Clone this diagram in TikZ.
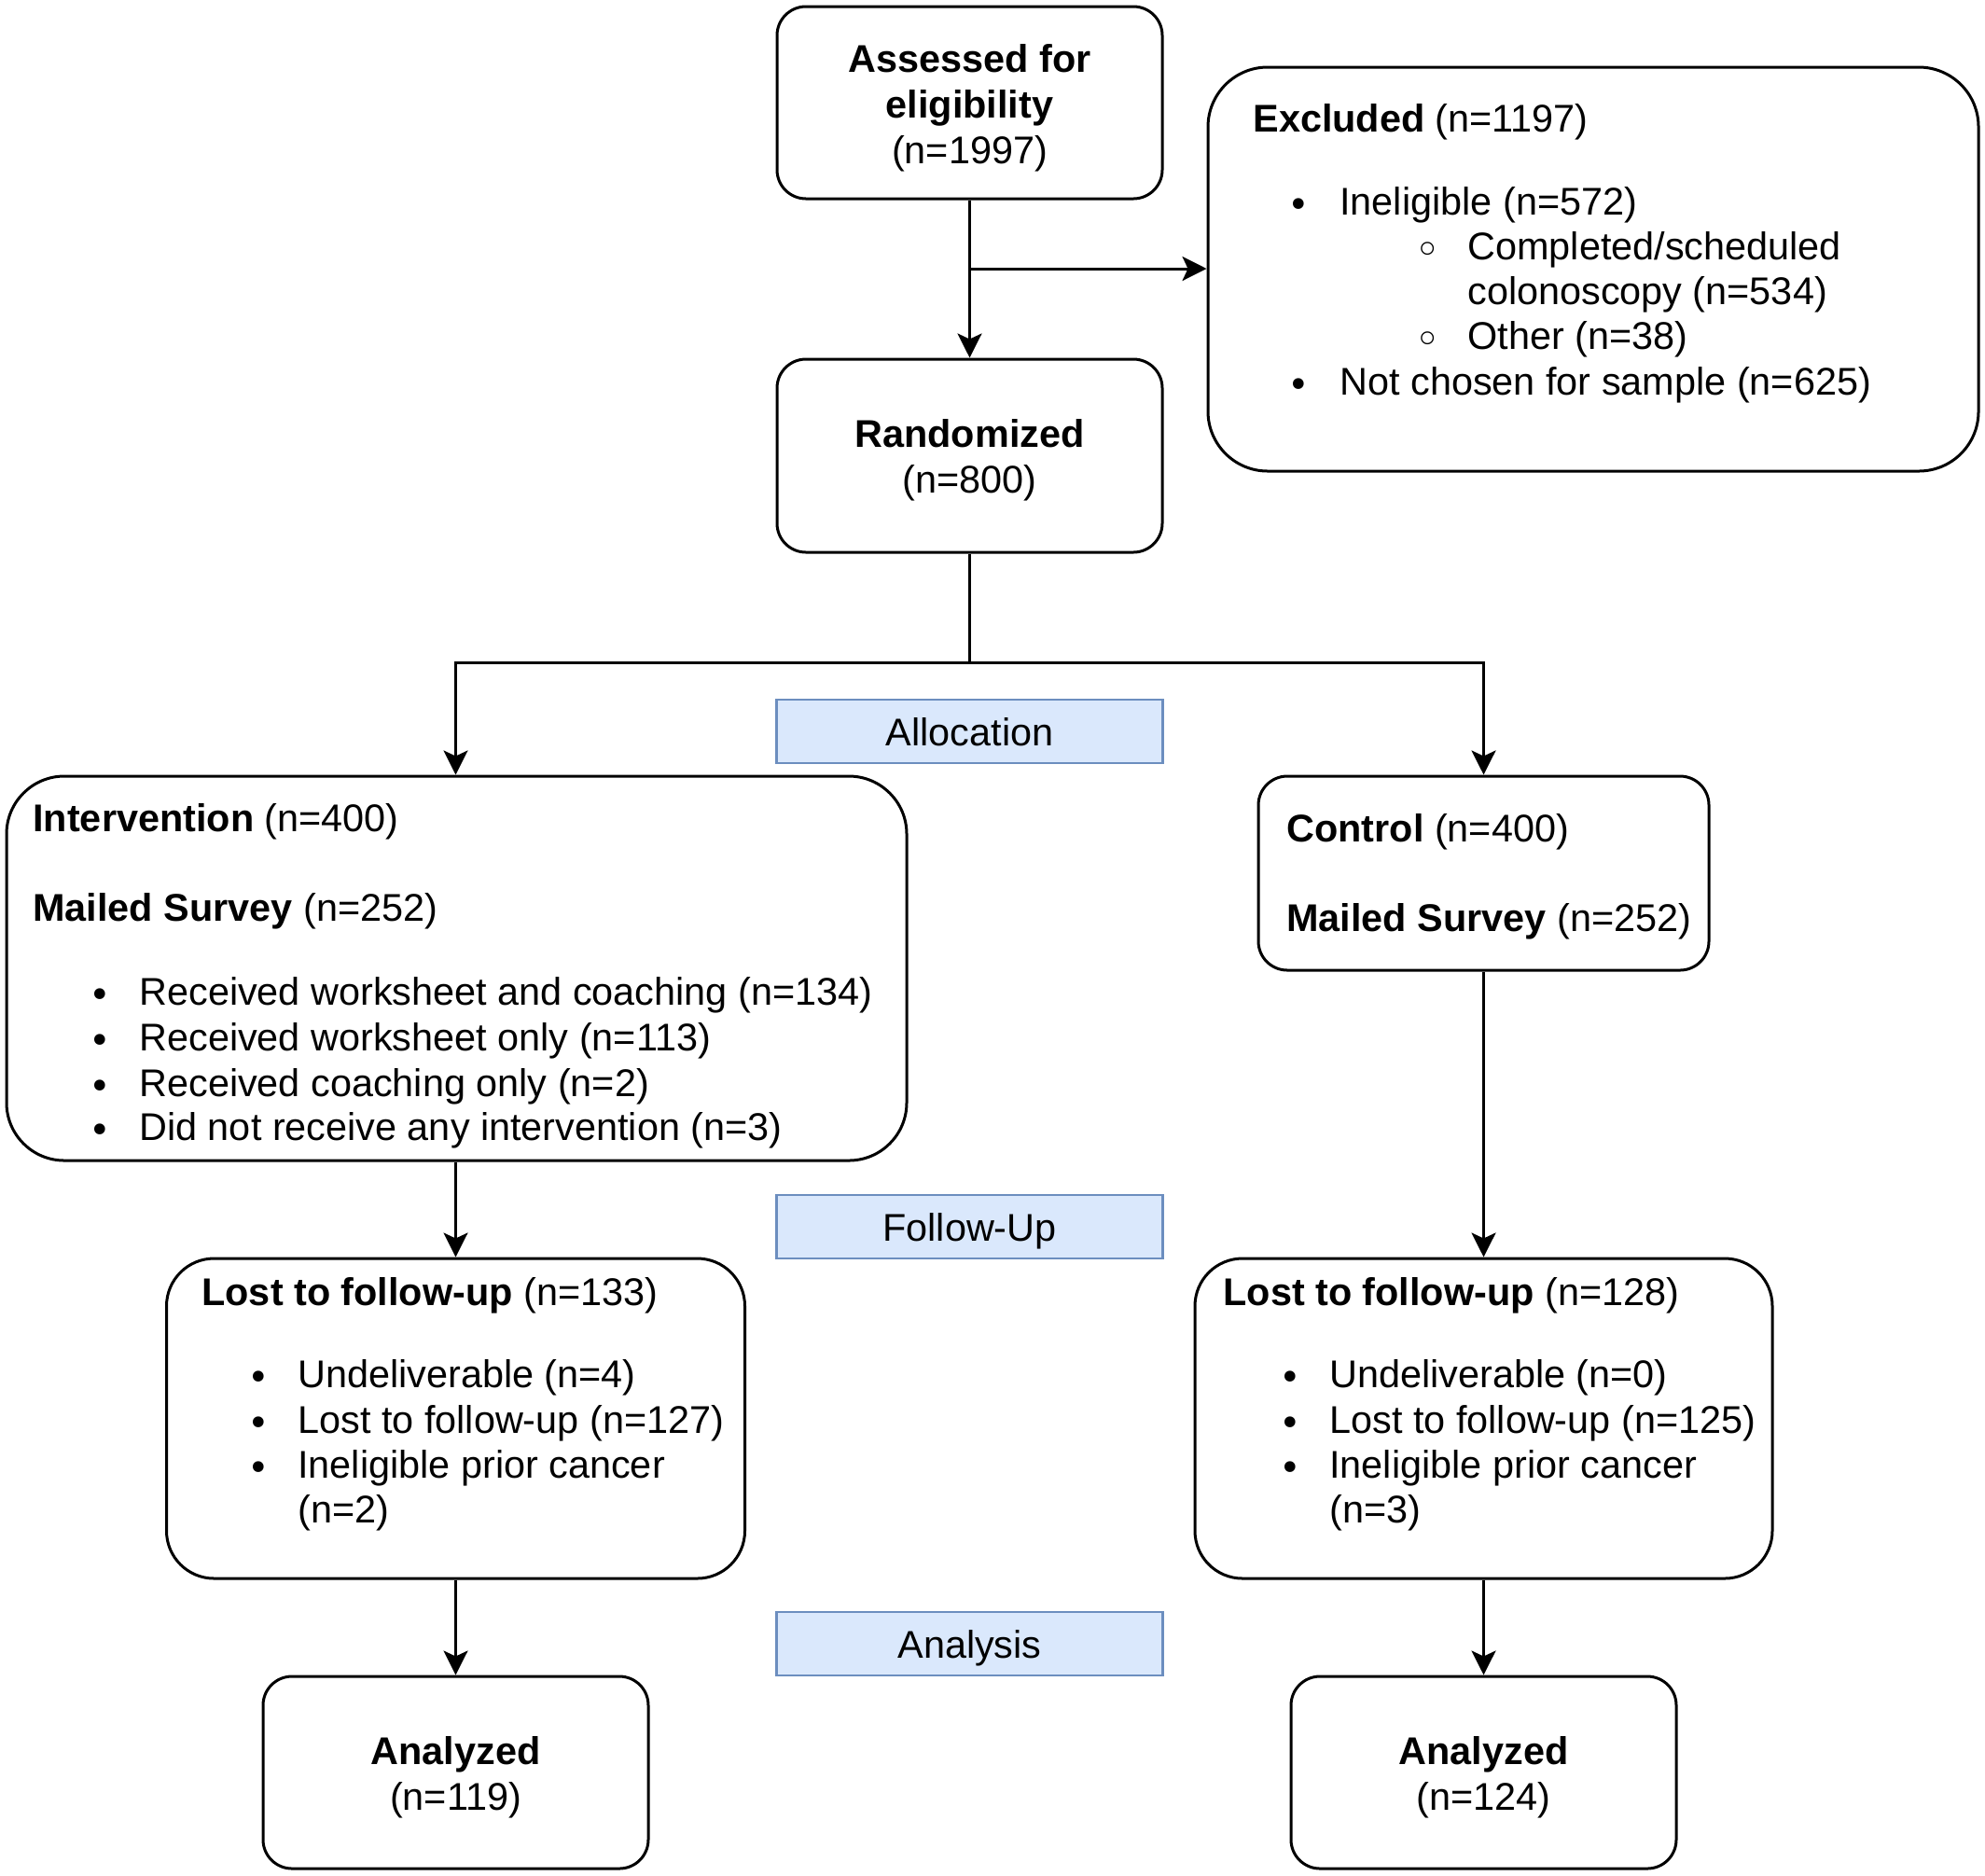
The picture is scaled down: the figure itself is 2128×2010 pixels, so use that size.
\documentclass[tikz,border=0pt]{standalone}
\usepackage{fontspec}
\setmainfont{Liberation Sans}
\newfontfamily\symfont{DejaVu Sans}
\usetikzlibrary{arrows.meta}
\tikzset{
  boxnode/.style={draw=black, line width=1.5pt, fill=white, inner sep=0pt},
  ctext/.style={align=center, inner sep=0pt, font=\fontsize{20.7}{24.5}\selectfont},
  labelbox/.style={draw={rgb,255:red,108;green,142;blue,191}, line width=1.2pt,
    fill={rgb,255:red,218;green,232;blue,252}, inner sep=0pt,
    minimum width=207pt, minimum height=34pt, text height=1.5em, text depth=0em,
    font=\fontsize{20.7}{24}\selectfont},
  txt/.style={anchor=west, inner sep=0pt, text height=1.54em, text depth=0.2em,
    font=\fontsize{20.7}{24}\selectfont},
  bul/.style={anchor=center, inner sep=0pt, yshift=-2pt, font=\symfont\fontsize{20}{20}\selectfont},
  subbul/.style={anchor=center, inner sep=0pt, yshift=-2pt, font=\symfont\fontsize{24}{24}\selectfont},
  arr/.style={line width=1.5pt, -{Stealth[length=13pt,width=13pt,inset=3pt]}},
  ln/.style={line width=1.5pt}
}
\begin{document}
\begin{tikzpicture}[x=0.5pt,y=-0.5pt]
\useasboundingbox (0,0) rectangle (2128,2010);

% boxes
\node[boxnode, rounded corners=15.5pt, minimum width=206.5pt, minimum height=103pt] (assess) at (1039.5,110) {};
\node[boxnode, rounded corners=32pt, minimum width=413pt, minimum height=216.5pt] (excl) at (1708,288.5) {};
\node[boxnode, rounded corners=15.5pt, minimum width=206.5pt, minimum height=103.5pt] (rand) at (1039.5,488.5) {};
\node[boxnode, rounded corners=31pt, minimum width=482.5pt, minimum height=206pt] (int) at (489.5,1038) {};
\node[boxnode, rounded corners=15.5pt, minimum width=241.5pt, minimum height=104pt] (ctrl) at (1590.5,936) {};
\node[boxnode, rounded corners=25.5pt, minimum width=310pt, minimum height=171.5pt] (lostL) at (488.5,1520.5) {};
\node[boxnode, rounded corners=25.5pt, minimum width=309.5pt, minimum height=171.5pt] (lostR) at (1590.5,1520.5) {};
\node[boxnode, rounded corners=15.5pt, minimum width=206.5pt, minimum height=103pt] (anaL) at (488.5,1900) {};
\node[boxnode, rounded corners=15.5pt, minimum width=206.5pt, minimum height=103pt] (anaR) at (1590.5,1900) {};

% centred texts
\node[ctext] (assessT) at (1039.5,116) {\textbf{Assessed for}\\\textbf{eligibility}\\(n=1997)};
\node[ctext] (randT) at (1039.5,493) {\textbf{Randomized}\\(n=800)};
\node[ctext] (anaLT) at (488.5,1905) {\textbf{Analyzed}\\(n=119)};
\node[ctext] (anaRT) at (1590.5,1905) {\textbf{Analyzed}\\(n=124)};

% stage labels
\node[labelbox] (alloc) at (1039.5,784) {Allocation};
\node[labelbox] (follow) at (1039.5,1315) {Follow-Up};
\node[labelbox] (analysis) at (1039.5,1762) {Analysis};

% Excluded text
\node[txt] (ex0) at (1343,128) {\textbf{Excluded} (n=1197)};
\node[bul] (exb1) at (1392,219) {•};
\node[txt] (ex1) at (1436,217) {Ineligible (n=572)};
\node[subbul] (exs1) at (1531,268) {◦};
\node[txt] (ex2) at (1573,265) {Completed/scheduled};
\node[txt] (ex3) at (1573,313) {colonoscopy (n=534)};
\node[subbul] (exs2) at (1531,364) {◦};
\node[txt] (ex4) at (1573,361) {Other (n=38)};
\node[bul] (exb2) at (1392,412) {•};
\node[txt] (ex5) at (1436,410) {Not chosen for sample (n=625)};

% Intervention text
\node[txt] (in0) at (35,878) {\textbf{Intervention} (n=400)};
\node[txt] (in1) at (35,974) {\textbf{Mailed Survey} (n=252)};
\node[bul] (inb1) at (107,1066) {•};
\node[txt] (in2) at (149,1064) {Received worksheet and coaching (n=134)};
\node[bul] (inb2) at (107,1115) {•};
\node[txt] (in3) at (149,1113) {Received worksheet only (n=113)};
\node[bul] (inb3) at (107,1164) {•};
\node[txt] (in4) at (149,1162) {Received coaching only (n=2)};
\node[bul] (inb4) at (107,1211) {•};
\node[txt] (in5) at (149,1209) {Did not receive any intervention (n=3)};

% Control text
\node[txt] (ct0) at (1379,889) {\textbf{Control} (n=400)};
\node[txt] (ct1) at (1379,985) {\textbf{Mailed Survey} (n=252)};

% Lost left
\node[txt] (ll0) at (216,1386) {\textbf{Lost to follow-up} (n=133)};
\node[bul] (llb1) at (277,1476) {•};
\node[txt] (ll1) at (319,1474) {Undeliverable (n=4)};
\node[bul] (llb2) at (277,1525) {•};
\node[txt] (ll2) at (319,1523) {Lost to follow-up (n=127)};
\node[bul] (llb3) at (277,1573) {•};
\node[txt] (ll3) at (319,1571) {Ineligible prior cancer};
\node[txt] (ll4) at (319,1619) {(n=2)};

% Lost right
\node[txt] (lr0) at (1311,1386) {\textbf{Lost to follow-up} (n=128)};
\node[bul] (lrb1) at (1383,1476) {•};
\node[txt] (lr1) at (1425,1474) {Undeliverable (n=0)};
\node[bul] (lrb2) at (1383,1525) {•};
\node[txt] (lr2) at (1425,1523) {Lost to follow-up (n=125)};
\node[bul] (lrb3) at (1383,1573) {•};
\node[txt] (lr3) at (1425,1571) {Ineligible prior cancer};
\node[txt] (lr4) at (1425,1619) {(n=3)};

% connectors
\coordinate (br) at (1039.5,288);
\coordinate (sp) at (1039.5,710);
\draw[arr] (assess.south) -- (rand.north);
\draw[arr] (br) -- (br -| excl.west);
\draw[ln] (rand.south) -- (sp);
\draw[arr] (sp) -| (int.north -| lostL.north);
\draw[arr] (sp) -| (ctrl.north);
\draw[arr] (int.south -| lostL.north) -- (lostL.north);
\draw[arr] (ctrl.south) -- (lostR.north);
\draw[arr] (lostL.south) -- (anaL.north);
\draw[arr] (lostR.south) -- (anaR.north);
\end{tikzpicture}
\end{document}
